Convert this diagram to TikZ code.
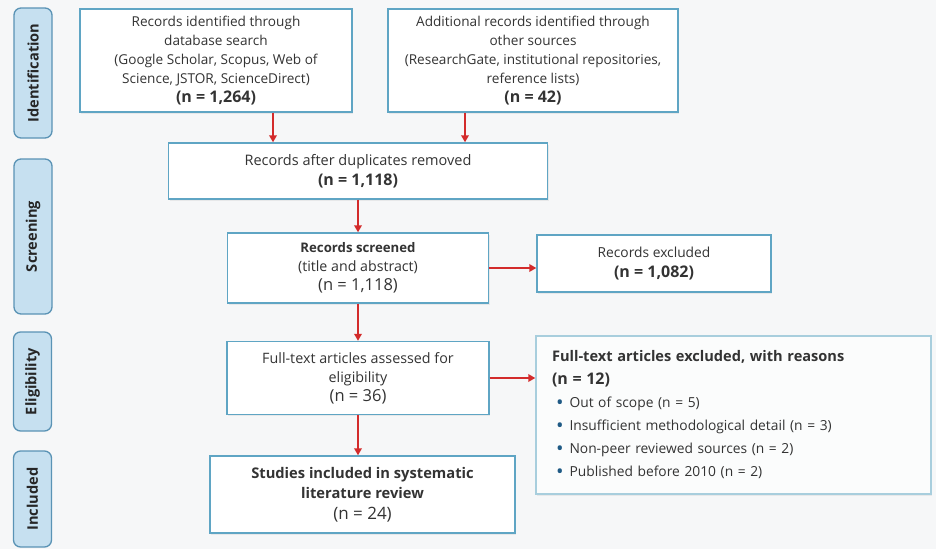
\documentclass[tikz,border=0pt]{standalone}
\usepackage{fontspec}
\setmainfont{Open Sans}
\usetikzlibrary{arrows.meta,shadows}
\definecolor{pagebg}{HTML}{F6F7F8}
\definecolor{boxline}{HTML}{5FA5C4}
\definecolor{softline}{HTML}{A8CEDD}
\definecolor{phasefill}{HTML}{C6E0F0}
\definecolor{phaseline}{HTML}{5A93B5}
\definecolor{arrowred}{HTML}{D32B2B}
\definecolor{textgray}{HTML}{333333}
\definecolor{bulletblue}{HTML}{1F5A85}
\newcommand\nval[1]{{\bfseries\fontsize{16}{19}\selectfont #1}}
\newcommand\nreg[1]{{\fontsize{16.5}{19}\selectfont #1}}
\newcommand\bul{\textcolor{bulletblue}{\raisebox{-1.8pt}{\fontsize{20}{0}\selectfont\textbullet}}\hspace{6pt}}

\begin{document}
\begin{tikzpicture}[x=1pt,y=-1pt,
	box_node/.style={draw=boxline,fill=white,line width=1.4pt,align=center,text=textgray,inner sep=3pt,
		font=\fontsize{13.6}{18.8}\selectfont,drop shadow={opacity=0.12,shadow xshift=1pt,shadow yshift=-1.5pt}},
	phase_node/.style={draw=phaseline,fill=phasefill,rounded corners=7pt,line width=1.3pt,rotate=90,
		minimum height=38pt,inner sep=0pt,text=black!85,font=\bfseries\fontsize{14.6}{16}\selectfont},
	flow/.style={draw=arrowred,line width=1.8pt,-{Triangle[length=7pt,width=7.5pt]}}]

	\fill[pagebg] (0,0) rectangle (936,549);
	\useasboundingbox (0,0) rectangle (936,549);

	\node[phase_node,minimum width=130pt] (ident) at (33,73) {Identification};
	\node[phase_node,minimum width=155pt] (screen) at (33,236.5) {Screening};
	\node[phase_node,minimum width=99pt] (elig) at (32.5,381.5) {Eligibility};
	\node[phase_node,minimum width=96pt] (incl) at (32.5,499) {Included};

	\node[box_node,minimum width=272pt,minimum height=103pt] (dbsearch) at (216,60.5)
		{Records identified through\\ database search\\ (Google Scholar, Scopus, Web of\\ Science, JSTOR, ScienceDirect)\\ \nval{(n = 1,264)}};
	\node[box_node,minimum width=290pt,minimum height=103pt] (othersrc) at (533,60.5)
		{Additional records identified through\\ other sources\\ (ResearchGate, institutional repositories,\\ reference lists)\\ \nval{(n = 42)}};
	\node[box_node,minimum width=379pt,minimum height=56pt,font=\fontsize{14.5}{20}\selectfont] (dup) at (358,171)
		{Records after duplicates removed\\ \nval{(n = 1,118)}};
	\node[box_node,minimum width=261pt,minimum height=70pt,font=\fontsize{14.2}{19}\selectfont] (screened) at (358,268)
		{{\bfseries\fontsize{13.2}{19}\selectfont Records screened}\\ (title and abstract)\\ \nreg{(n = 1,118)}};
	\node[box_node,minimum width=234pt,minimum height=57pt,font=\fontsize{13.8}{20}\selectfont] (excluded) at (654,263.5)
		{Records excluded\\ \nval{(n = 1,082)}};
	\node[box_node,minimum width=262pt,minimum height=73pt,font=\fontsize{14.3}{19}\selectfont] (fulltext) at (358,378)
		{Full-text articles assessed for\\ eligibility\\ \nreg{(n = 36)}};
	\node[box_node,minimum width=305pt,minimum height=77pt,font=\fontsize{14.7}{20.5}\selectfont] (included) at (362.5,494.5)
		{\textbf{Studies included in systematic}\\ \textbf{literature review}\\ {\fontsize{17}{20.5}\selectfont (n = 24)}};
	\node[box_node,draw=softline,fill=white!60!pagebg,minimum width=395pt,minimum height=158pt,
		text width=363pt,align=left,font=\fontsize{13.8}{23}\selectfont] (reasons) at (733.5,415)
		{{\bfseries\fontsize{14.6}{23}\selectfont Full-text articles excluded, with reasons}\\
		\nval{(n = 12)}\\
		\hspace*{4pt}\bul Out of scope (n = 5)\\
		\hspace*{4pt}\bul Insufficient methodological detail (n = 3)\\
		\hspace*{4pt}\bul Non-peer reviewed sources (n = 2)\\
		\hspace*{4pt}\bul Published before 2010 (n = 2)};

	\coordinate (dbdown) at ([xshift=57pt]dbsearch.south);
	\coordinate (otherdown) at ([xshift=-68pt]othersrc.south);
	\draw[flow] (dbdown) -- (dbdown |- dup.north);
	\draw[flow] (otherdown) -- (otherdown |- dup.north);
	\draw[flow] (dup.south) -- (screened.north);
	\draw[flow] (screened.east) -- (screened.east -| excluded.west);
	\draw[flow] (screened.south) -- (fulltext.north);
	\draw[flow] (fulltext.east) -- (fulltext.east -| reasons.west);
	\draw[flow] (fulltext.south) -- (fulltext.south |- included.north);
\end{tikzpicture}
\end{document}
